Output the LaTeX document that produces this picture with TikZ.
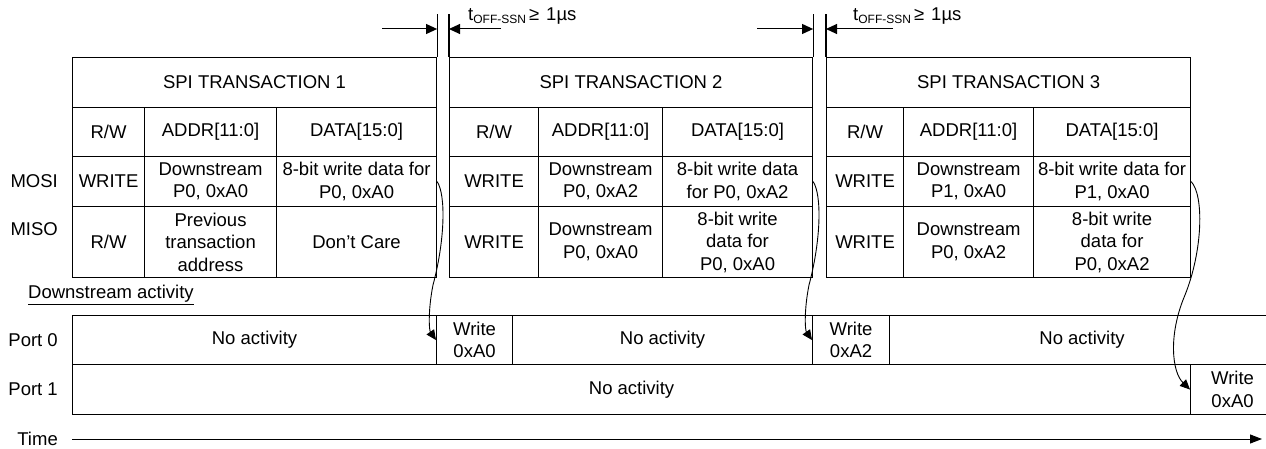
\documentclass[tikz,border=0pt]{standalone}
\usepackage{fontspec}
\setmainfont{Liberation Sans}
\usetikzlibrary{arrows.meta}

\tikzset{
  cell/.style={draw, line width=1.1pt, inner sep=0pt, align=center, anchor=north west},
  lbl/.style={inner sep=0pt, anchor=east},
  tip/.style={-{Triangle[length=11pt,width=10pt]}, line width=1pt},
  hop/.style={-{Triangle[length=10pt,width=9pt]}, line width=0.9pt}
}

\begin{document}
\begin{tikzpicture}[x=1pt, y=-1pt, font=\fontsize{18.5}{22.5}\selectfont]
\useasboundingbox (0,0) rectangle (1266,449);

% SPI transaction 1
\node[cell, minimum width=364pt, minimum height=50pt] (t1head) at (72,57) {SPI TRANSACTION 1};
\node[cell, minimum width=72pt, minimum height=49pt] (t1rw) at (72,107) {R/W};
\node[cell, minimum width=132pt, minimum height=49pt] (t1addr) at (144,107) {ADDR[11:0]};
\node[cell, minimum width=160pt, minimum height=49pt] (t1data) at (276,107) {DATA[15:0]};
\node[cell, minimum width=72pt, minimum height=50pt] (t1mosi1) at (72,156) {WRITE};
\node[cell, minimum width=132pt, minimum height=50pt] (t1mosi2) at (144,156) {Downstream\\P0, 0xA0};
\node[cell, minimum width=160pt, minimum height=50pt] (t1mosi3) at (276,156) {8-bit write data for\\P0, 0xA0};
\node[cell, minimum width=72pt, minimum height=71pt] (t1miso1) at (72,206) {R/W};
\node[cell, minimum width=132pt, minimum height=71pt] (t1miso2) at (144,206) {Previous\\transaction\\address};
\node[cell, minimum width=160pt, minimum height=71pt] (t1miso3) at (276,206) {Don’t Care};

% SPI transaction 2
\node[cell, minimum width=363pt, minimum height=50pt] (t2head) at (449,57) {SPI TRANSACTION 2};
\node[cell, minimum width=89pt, minimum height=49pt] (t2rw) at (449,107) {R/W};
\node[cell, minimum width=124pt, minimum height=49pt] (t2addr) at (538,107) {ADDR[11:0]};
\node[cell, minimum width=150pt, minimum height=49pt] (t2data) at (662,107) {DATA[15:0]};
\node[cell, minimum width=89pt, minimum height=50pt] (t2mosi1) at (449,156) {WRITE};
\node[cell, minimum width=124pt, minimum height=50pt] (t2mosi2) at (538,156) {Downstream\\P0, 0xA2};
\node[cell, minimum width=150pt, minimum height=50pt] (t2mosi3) at (662,156) {8-bit write data\\for P0, 0xA2};
\node[cell, minimum width=89pt, minimum height=71pt] (t2miso1) at (449,206) {WRITE};
\node[cell, minimum width=124pt, minimum height=71pt] (t2miso2) at (538,206) {Downstream\\P0, 0xA0};
\node[cell, minimum width=150pt, minimum height=71pt] (t2miso3) at (662,206) {8-bit write\\data for\\P0, 0xA0};

% SPI transaction 3
\node[cell, minimum width=364pt, minimum height=50pt] (t3head) at (826,57) {SPI TRANSACTION 3};
\node[cell, minimum width=77pt, minimum height=49pt] (t3rw) at (826,107) {R/W};
\node[cell, minimum width=130pt, minimum height=49pt] (t3addr) at (903,107) {ADDR[11:0]};
\node[cell, minimum width=157pt, minimum height=49pt] (t3data) at (1033,107) {DATA[15:0]};
\node[cell, minimum width=77pt, minimum height=50pt] (t3mosi1) at (826,156) {WRITE};
\node[cell, minimum width=130pt, minimum height=50pt] (t3mosi2) at (903,156) {Downstream\\P1, 0xA0};
\node[cell, minimum width=157pt, minimum height=50pt] (t3mosi3) at (1033,156) {8-bit write data for\\P1, 0xA0};
\node[cell, minimum width=77pt, minimum height=71pt] (t3miso1) at (826,206) {WRITE};
\node[cell, minimum width=130pt, minimum height=71pt] (t3miso2) at (903,206) {Downstream\\P0, 0xA2};
\node[cell, minimum width=157pt, minimum height=71pt] (t3miso3) at (1033,206) {8-bit write\\data for\\P0, 0xA2};

% row labels
\node[lbl] (mosi) at (58,181) {MOSI};
\node[lbl] (miso) at (58,229) {MISO};
\node[lbl, anchor=west] (dsact) at (28,295) {\underline{Downstream activity}};
\node[lbl] (port0) at (58,340) {Port 0};
\node[lbl] (port1) at (58,389) {Port 1};
\node[lbl] (time) at (58,439) {Time};

% downstream ports
\node[cell, minimum width=364pt, minimum height=49pt] (p0idle1) at (72,315) {No activity};
\node[cell, minimum width=76pt, minimum height=49pt] (p0w1) at (436,315) {Write\\0xA0};
\node[cell, minimum width=300pt, minimum height=49pt] (p0idle2) at (512,315) {No activity};
\node[cell, minimum width=77pt, minimum height=49pt] (p0w2) at (812,315) {Write\\0xA2};
\node[cell, minimum width=385pt, minimum height=49pt] (p0idle3) at (889,315) {No activity};
\node[cell, minimum width=1118pt, minimum height=50pt] (p1idle) at (72,364) {No activity};
\node[cell, minimum width=84pt, minimum height=50pt] (p1w) at (1190,364) {Write\\0xA0};

% gaps between transactions
\draw[line width=1.1pt] (t1head.north east) -- ++(0,-43);
\draw[line width=1.1pt] (t2head.north west) -- ++(0,-43);
\draw[line width=1.1pt] (t2head.north east) -- ++(0,-43);
\draw[line width=1.1pt] (t3head.north west) -- ++(0,-43);
\coordinate (g1l) at (382,29);
\coordinate (g1r) at (501,29);
\coordinate (g2l) at (757,29);
\coordinate (g2r) at (893,29);
\draw[tip] (g1l) -- (g1l -| t1head.east);
\draw[tip] (g1r) -- (g1r -| t2head.west);
\draw[tip] (g2l) -- (g2l -| t2head.east);
\draw[tip] (g2r) -- (g2r -| t3head.west);
\node[inner sep=0pt, anchor=base west] (toff1) at (468,21) {t{\fontsize{12}{12}\selectfont\raisebox{-3pt}{OFF-SSN}}\,≥\hspace{7pt}1µs};
\node[inner sep=0pt, anchor=base west] (toff2) at (853,21) {t{\fontsize{12}{12}\selectfont\raisebox{-3pt}{OFF-SSN}}\,≥\hspace{7pt}1µs};

% writes handed downstream
\draw[hop] (t1mosi3.east) .. controls (446,195) and (445,240) .. (433,285) .. controls (428,310) and (429,330) .. (p0w1.west);
\draw[hop] (t2mosi3.east) .. controls (822,195) and (821,240) .. (809,285) .. controls (804,310) and (805,330) .. (p0w2.west);
\draw[hop] (t3mosi3.east) .. controls (1204,195) and (1203,250) .. (1185,295) .. controls (1168,335) and (1172,372) .. (p1w.west);

% time axis
\coordinate (tend) at (1262,439);
\draw[-{Triangle[length=12pt,width=9pt]}, line width=1pt] ([xshift=14pt]time.east) -- (tend);
\end{tikzpicture}
\end{document}
